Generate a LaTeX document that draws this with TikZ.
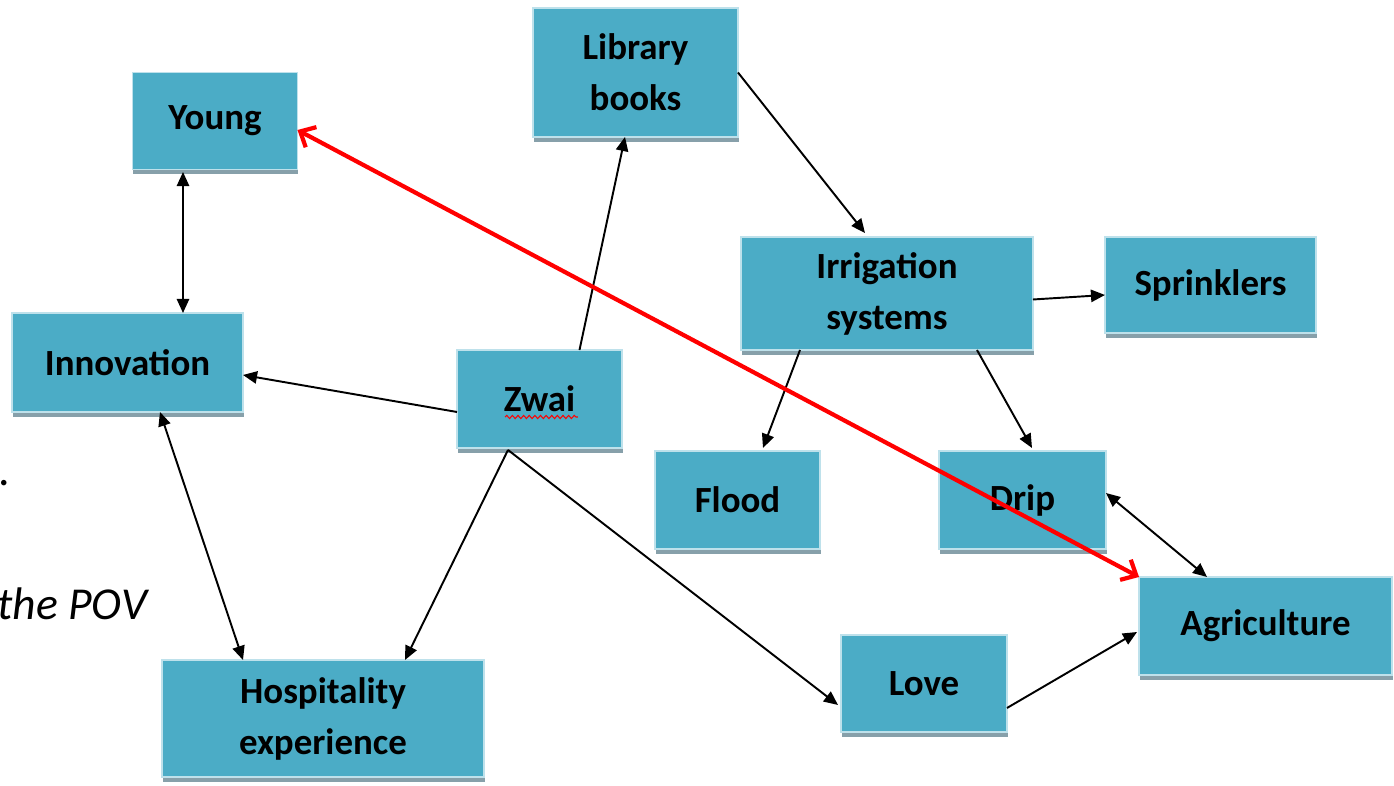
\documentclass[tikz,border=0pt]{standalone}
\usepackage{fontspec}
\setmainfont{Carlito}
\usepackage{xcolor}
\usetikzlibrary{shadows,arrows.meta,decorations.pathmorphing}

\definecolor{boxfill}{RGB}{75,172,198}
\definecolor{boxedge}{RGB}{190,225,235}
\definecolor{boxshade}{RGB}{135,160,170}

\tikzset{
  topic/.style={rectangle,
      fill=boxfill,
      draw=boxedge,
      line width=0.8pt,
      inner sep=0pt,
      outer sep=0pt,
      align=center,
      font=\bfseries\fontsize{21}{29}\selectfont,
      drop shadow={shadow xshift=0.4pt, shadow yshift=-2.8pt, fill=boxshade, opacity=1}},
  link/.style={line width=1.1pt, -{Triangle[length=8pt,width=7pt]}},
  twoway/.style={line width=1.1pt, {Triangle[length=8pt,width=7pt]}-{Triangle[length=8pt,width=7pt]}},
  redlink/.style={red, line width=2.4pt, line cap=round,
      {Straight Barb[length=7pt,width=13pt]}-{Straight Barb[length=7pt,width=13pt]}},
  squiggle/.style={red, line width=0.6pt,
      decorate, decoration={snake, amplitude=0.9pt, segment length=3.2pt}}
}

\begin{document}
\begin{tikzpicture}[x=0.02cm, y=-0.02cm]
\useasboundingbox (0,0) rectangle (1394,786);

\node[topic, minimum width=3.3cm, minimum height=1.94cm] (young) at (215,121) {Young};
\node[topic, minimum width=4.1cm, minimum height=2.58cm] (library) at (635.5,72.5) {Library\\books};
\node[topic, minimum width=5.84cm, minimum height=2.26cm] (irrigation) at (887,293.5) {Irrigation\\systems};
\node[topic, minimum width=4.22cm, minimum height=1.92cm] (sprinklers) at (1210.5,285) {Sprinklers};
\node[topic, minimum width=4.62cm, minimum height=1.98cm] (innovation) at (127.5,362.5) {Innovation};
\node[topic, minimum width=3.3cm, minimum height=1.96cm] (zwai) at (539.5,399) {Zwai};
\node[topic, minimum width=3.3cm, minimum height=1.96cm] (flood) at (737.5,500) {Flood};
\node[topic, minimum width=3.34cm, minimum height=1.96cm] (drip) at (1022.5,500) {Drip};
\node[topic, minimum width=5.06cm, minimum height=1.96cm] (agriculture) at (1265.5,626) {Agriculture};
\node[topic, minimum width=3.32cm, minimum height=1.94cm] (love) at (924,683.5) {Love};
\node[topic, minimum width=6.44cm, minimum height=2.34cm] (hospitality) at (323,718.5) {Hospitality\\experience};

\draw[squiggle] ([xshift=-0.69cm,yshift=-0.36cm]zwai.center) -- ++(1.46cm,0);

\node[anchor=base west, inner sep=0pt, font=\fontsize{26}{30}\selectfont] (dot) at (-2,486) {.};
\node[anchor=base west, inner sep=0pt, font=\itshape\fontsize{26}{30}\selectfont] (pov) at (-3,620) {the POV};

\draw[twoway] ([xshift=-0.64cm,yshift=-0.05cm]young.south) -- ([xshift=1.11cm]innovation.north);
\draw[link] ([xshift=0.8cm]zwai.north) -- ([xshift=-0.21cm]library.south);
\draw[link] (library.east) -- ([xshift=-0.44cm,yshift=0.08cm]irrigation.north);
\draw[link] ([yshift=-0.12cm]irrigation.east) -- ([yshift=-0.2cm]sprinklers.west);
\draw[link] ([xshift=-1.74cm]irrigation.south) -- ([xshift=0.51cm,yshift=0.06cm]flood.north);
\draw[link] ([xshift=1.8cm]irrigation.south) -- ([xshift=0.19cm,yshift=0.06cm]drip.north);
\draw[twoway] ([yshift=0.14cm]drip.east) -- ([xshift=-1.17cm]agriculture.north);
\draw[link] ([yshift=-0.26cm]zwai.west) -- ([yshift=-0.25cm]innovation.east);
\draw[twoway] ([xshift=0.65cm]innovation.south) -- ([xshift=-1.6cm]hospitality.north);
\draw[link] ([xshift=-0.63cm,yshift=-0.04cm]zwai.south) -- ([xshift=1.64cm]hospitality.north);
\draw[link] ([xshift=-0.63cm,yshift=-0.04cm]zwai.south) -- ([xshift=-0.06cm,yshift=-0.43cm]love.west);
\draw[link] ([yshift=-0.49cm]love.east) -- ([xshift=-0.04cm,yshift=-0.12cm]agriculture.west);
\draw[redlink] ([yshift=-0.18cm]young.east) -- (agriculture.north west);
\end{tikzpicture}
\end{document}
